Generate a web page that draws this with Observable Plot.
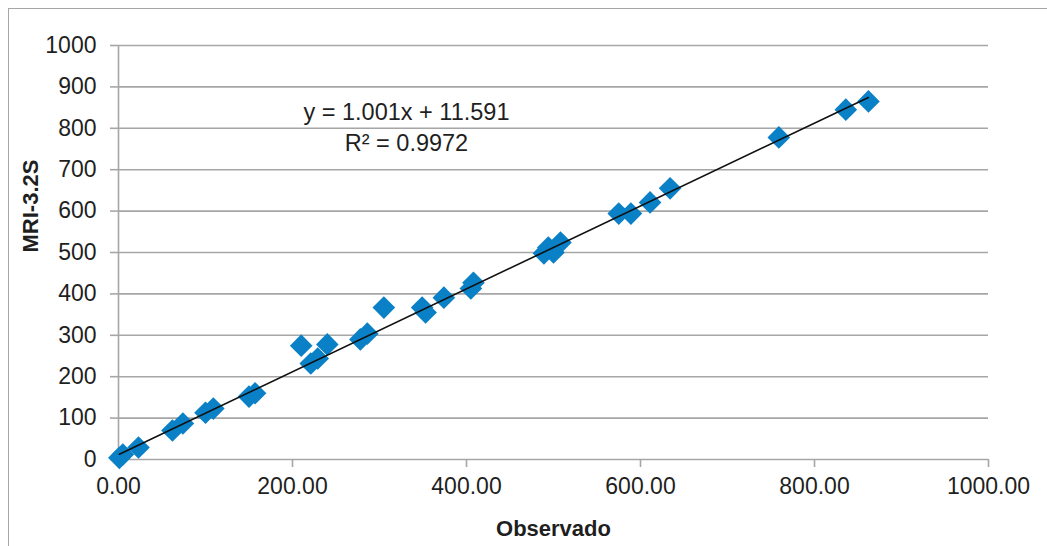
<!DOCTYPE html>
<html>
<head>
<meta charset="utf-8">
<script src="https://cdn.jsdelivr.net/npm/d3@7"></script>
<script src="https://cdn.jsdelivr.net/npm/@observablehq/plot@0.6"></script>
<style>
  html, body { margin: 0; padding: 0; background: #fff; }
  #wrap { position: relative; width: 1047px; height: 546px; overflow: hidden; }
  #frame { position: absolute; left: 8px; top: 8px; width: 1100px; height: 600px;
           border-left: 1.5px solid #a6a6a6; border-top: 1.5px solid #a6a6a6; pointer-events: none; }
  #chart svg { display: block; }
</style>
</head>
<body>
<div id="wrap">
  <div id="chart"></div>
  <div id="frame"></div>
</div>
<script>
const observado = [1, 5, 23, 62, 74, 100, 109, 150, 157, 210, 221, 229, 240, 278, 286, 305, 349, 353, 374, 405, 408, 489, 494, 500, 508, 575, 589, 611, 634, 759, 836, 862];
const mri = [4, 12, 29, 70, 87, 113, 123, 152, 160, 275, 232, 244, 278, 290, 304, 367, 367, 355, 391, 413, 427, 498, 512, 500, 524, 594, 594, 621, 655, 778, 845, 865];
const xTicks = [0, 200, 400, 600, 800, 1000];
const yTicks = [0, 100, 200, 300, 400, 500, 600, 700, 800, 900, 1000];
const slope = 1.001, intercept = 11.591;
const eqLines = ["y = 1.001x + 11.591", "R² = 0.9972"];

const points = observado.map((x, i) => ({x, y: mri[i]}));
const xMin = d3.min(observado), xMax = d3.max(observado);
const trend = [xMin, xMax].map(x => ({x, y: slope * x + intercept}));

const gray = "#a6a6a6";
const ink = "#1f1f1f";
const font = "'Liberation Sans', Arial, sans-serif";

const chart = Plot.plot({
  width: 1047,
  height: 546,
  marginLeft: 118,
  marginRight: 59,
  marginTop: 45,
  marginBottom: 87,
  style: {fontFamily: font, fontSize: "23px", color: ink, background: "transparent"},
  x: {domain: [0, 1000]},
  y: {domain: [0, 1000]},
  marks: [
    Plot.gridY(yTicks, {stroke: gray, strokeOpacity: 1, strokeWidth: 1.6}),
    Plot.ruleX([0], {stroke: gray, strokeWidth: 1.6}),
    Plot.axisY(yTicks, {tickSize: 8, tickPadding: 14, stroke: gray, strokeOpacity: 1, strokeWidth: 1.6,
      tickFormat: d => String(d), fill: ink, label: null, fontSize: 23}),
    Plot.axisX(xTicks, {tickSize: 8, tickPadding: 10, stroke: gray, strokeOpacity: 1, strokeWidth: 1.6,
      tickFormat: d => d.toFixed(2), fill: ink, label: null, fontSize: 23}),
    Plot.text(["Observado"], {frameAnchor: "bottom", dy: 76, fontWeight: "bold", fontSize: 22, fill: ink}),
    Plot.text(["MRI-3.2S"], {frameAnchor: "left", dx: -88, rotate: -90, fontWeight: "bold", fontSize: 22, fill: ink}),
    Plot.dot(points, {x: "x", y: "y", symbol: "diamond2", r: 10.2, fill: "#0a80c6", stroke: "none"}),
    Plot.line(trend, {x: "x", y: "y", stroke: "#111", strokeWidth: 1.6}),
    Plot.text([eqLines[0]], {x: 331, y: 838, fill: ink, fontSize: 23.5}),
    Plot.text([eqLines[1]], {x: 331, y: 763, fill: ink, fontSize: 23.5})
  ]
});
document.getElementById("chart").appendChild(chart);
</script>
</body>
</html>
